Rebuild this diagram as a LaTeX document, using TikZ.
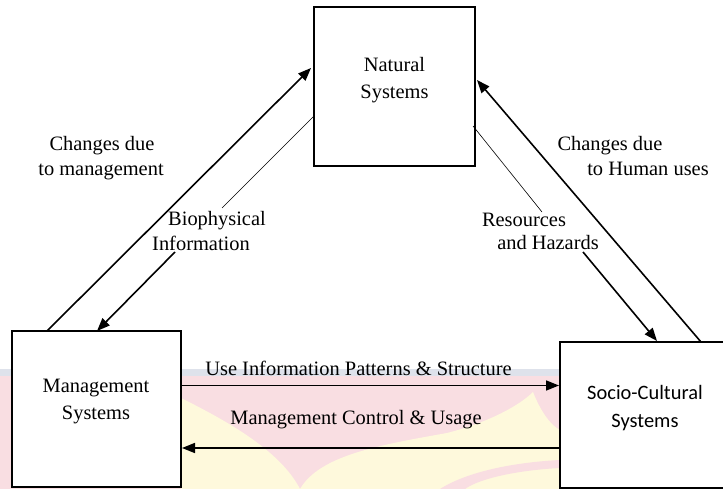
\documentclass[tikz,border=0pt]{standalone}
\usepackage{fontspec}
\setmainfont{Liberation Serif}
\newfontfamily\calibfont{Carlito}
\usetikzlibrary{arrows.meta}
\definecolor{wmpink}{RGB}{249,222,226}
\definecolor{wmband}{RGB}{222,226,235}
\definecolor{wmyellow}{RGB}{254,249,220}
\begin{document}
\begin{tikzpicture}[x=1bp,y=-1bp,
  box/.style={draw,line width=1.6bp,fill=white,inner sep=0pt},
  txt/.style={font=\fontsize{20.5}{25}\selectfont,inner sep=0pt,anchor=base},
  thickarrow/.style={line width=1.6bp,-{Triangle[length=13bp,width=10bp]}},
  thinline/.style={line width=0.6bp}]
\useasboundingbox (0,0) rectangle (723,489);
% watermark background
\fill[wmband] (0,369) rectangle (723,375.5);
\fill[wmpink] (0,375.5) rectangle (723,489);
\fill[wmyellow] (181,398) .. controls (225,420) and (280,450) .. (300,489) -- (181,489) -- cycle;
\fill[wmyellow] (300,489) .. controls (320,455) and (380,445) .. (447,433)
  .. controls (490,422) and (520,405) .. (533,392)
  .. controls (540,410) and (550,425) .. (560,430) -- (560,489) -- cycle;
\fill[wmpink] (440,489) .. controls (470,470) and (520,462) .. (560,460) -- (560,468) .. controls (520,470) and (480,478) .. (465,489) -- cycle;
% boxes
\node[box,minimum width=161bp,minimum height=159bp] (nat) at (394.5,86.5) {};
\node[box,minimum width=169bp,minimum height=156bp] (mgmt) at (96.5,409) {};
\node[box,minimum width=170bp,minimum height=146bp] (soc) at (645,415) {};
% box texts
\node[txt] (natA) at (394.5,72) {Natural};
\node[txt] (natB) at (394.5,98.5) {Systems};
\node[txt] (mgmtA) at (96,392.5) {Management};
\node[txt] (mgmtB) at (96,419) {Systems};
\node[txt,font=\calibfont\fontsize{20.5}{25}\selectfont] (socA) at (645,399.5) {Socio-Cultural};
\node[txt,font=\calibfont\fontsize{20.5}{25}\selectfont] (socB) at (645,427) {Systems};
% labels
\node[txt] (cdL1) at (102,151) {Changes due};
\node[txt] (cdL2) at (101,176) {to management};
\node[txt] (bio1) at (217,226) {Biophysical};
\node[txt] (bio2) at (201,250.5) {Information};
\node[txt] (res1) at (524,227) {Resources};
\node[txt] (res2) at (548,250) {and Hazards};
\node[txt] (cdR1) at (610,151) {Changes due};
\node[txt] (cdR2) at (648,176) {to Human uses};
\node[txt] (uip) at (358.5,375) {Use Information Patterns \& Structure};
\node[txt] (mcu) at (356,424) {Management Control \& Usage};
% connector end points
\coordinate (m1) at (47,331);
\coordinate (n1) at (311,68);
\coordinate (n2) at (314,116);
\coordinate (b1) at (222,208);
\coordinate (b2) at (175,252);
\coordinate (m2) at (97,331);
\coordinate (s1) at (701,342);
\coordinate (n3) at (477,80);
\coordinate (n4) at (473,126);
\coordinate (r1) at (542,212);
\coordinate (r2) at (583,252);
\coordinate (s2) at (657,341);
\coordinate (m3) at (182,385.5);
\coordinate (s3) at (559,385.5);
\coordinate (s4) at (560,448);
\coordinate (m4) at (182,448);
% connectors
\draw[thickarrow] (m1) -- (n1);
\draw[thinline] (n2) -- (b1);
\draw[thickarrow] (b2) -- (m2);
\draw[thickarrow] (s1) -- (n3);
\draw[thinline] (n4) -- (r1);
\draw[thickarrow] (r2) -- (s2);
\draw[thickarrow] (m3) -- (s3);
\draw[thickarrow] (s4) -- (m4);
\end{tikzpicture}
\end{document}
